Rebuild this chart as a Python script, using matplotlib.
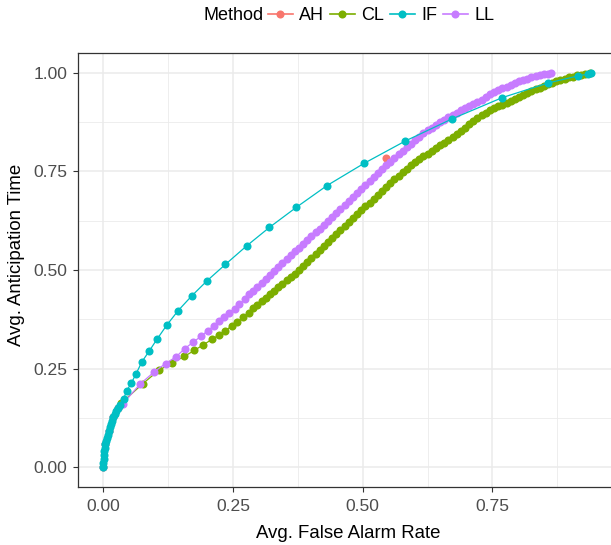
import matplotlib
matplotlib.use("Agg")
from matplotlib import pyplot as plt
from matplotlib.lines import Line2D
import numpy as np

plt.rcParams["font.family"] = ["Liberation Sans", "DejaVu Sans"]

# ---- data ----
methods = ["AH", "CL", "IF", "LL"]
colors = {"AH": "#F8766D", "CL": "#7CAE00", "IF": "#00BFC4", "LL": "#C77CFF"}

ah_x = [0.545]
ah_y = [0.785]

if_x = [0.000, 0.000, 0.001, 0.001, 0.002, 0.003, 0.004, 0.005, 0.006, 0.008,
        0.010, 0.012, 0.014, 0.016, 0.019, 0.022, 0.025, 0.028, 0.032, 0.039,
        0.045, 0.054, 0.063, 0.074, 0.088, 0.103, 0.122, 0.144, 0.170, 0.200,
        0.235, 0.276, 0.320, 0.372, 0.431, 0.502, 0.582, 0.672, 0.769, 0.857,
        0.915, 0.935, 0.939]
if_y = [0.000, 0.010, 0.020, 0.030, 0.040, 0.050, 0.058, 0.066, 0.074, 0.083,
        0.092, 0.101, 0.110, 0.118, 0.127, 0.136, 0.143, 0.149, 0.157, 0.174,
        0.194, 0.214, 0.237, 0.267, 0.294, 0.324, 0.360, 0.397, 0.434, 0.473,
        0.514, 0.561, 0.608, 0.659, 0.714, 0.770, 0.827, 0.883, 0.937, 0.974,
        0.992, 0.997, 1.000]

cl_x = [0.000, 0.004, 0.010, 0.019, 0.028, 0.034, 0.076, 0.107, 0.133, 0.156,
        0.175, 0.192, 0.209, 0.222, 0.235, 0.247, 0.258, 0.270, 0.280, 0.289,
        0.297, 0.305, 0.313, 0.321, 0.329, 0.337, 0.345, 0.353, 0.361, 0.369,
        0.377, 0.385, 0.393, 0.401, 0.409, 0.417, 0.425, 0.433, 0.441, 0.449,
        0.457, 0.465, 0.473, 0.481, 0.489, 0.497, 0.505, 0.513, 0.521, 0.529,
        0.537, 0.545, 0.553, 0.561, 0.569, 0.577, 0.585, 0.593, 0.601, 0.609,
        0.617, 0.625, 0.633, 0.641, 0.649, 0.657, 0.665, 0.673, 0.681, 0.689,
        0.697, 0.705, 0.713, 0.721, 0.729, 0.737, 0.745, 0.753, 0.761, 0.769,
        0.777, 0.785, 0.793, 0.801, 0.809, 0.817, 0.825, 0.833, 0.841, 0.849,
        0.857, 0.865, 0.873, 0.881, 0.889, 0.897, 0.905, 0.913, 0.921, 0.929,
        0.937]
cl_y = [0.000, 0.058, 0.092, 0.127, 0.149, 0.162, 0.212, 0.246, 0.265, 0.281,
        0.296, 0.310, 0.324, 0.335, 0.346, 0.358, 0.368, 0.381, 0.392, 0.403,
        0.412, 0.421, 0.430, 0.439, 0.447, 0.456, 0.465, 0.474, 0.483, 0.491,
        0.500, 0.510, 0.520, 0.530, 0.540, 0.550, 0.560, 0.571, 0.581, 0.591,
        0.601, 0.611, 0.621, 0.631, 0.641, 0.651, 0.661, 0.671, 0.681, 0.691,
        0.701, 0.710, 0.720, 0.730, 0.739, 0.748, 0.757, 0.765, 0.773, 0.781,
        0.788, 0.795, 0.802, 0.809, 0.816, 0.823, 0.830, 0.838, 0.845, 0.853,
        0.861, 0.869, 0.877, 0.885, 0.893, 0.899, 0.905, 0.910, 0.915, 0.919,
        0.924, 0.929, 0.934, 0.939, 0.944, 0.949, 0.954, 0.958, 0.962, 0.967,
        0.971, 0.975, 0.978, 0.982, 0.985, 0.988, 0.990, 0.993, 0.995, 0.997,
        0.999]

ll_x = [0.000, 0.004, 0.010, 0.019, 0.028, 0.037, 0.070, 0.098, 0.120, 0.140,
        0.157, 0.173, 0.188, 0.201, 0.213, 0.223, 0.233, 0.243, 0.253, 0.262,
        0.273,
        0.281, 0.289, 0.297, 0.305, 0.313, 0.321, 0.329, 0.337, 0.345, 0.353,
        0.361, 0.369, 0.377, 0.385, 0.393, 0.401, 0.409, 0.417, 0.425, 0.433,
        0.441, 0.449, 0.457, 0.465, 0.473, 0.481, 0.489, 0.497, 0.505, 0.513,
        0.521, 0.529, 0.537, 0.545, 0.553, 0.561, 0.569, 0.577, 0.585, 0.593,
        0.601, 0.609, 0.617, 0.625, 0.633, 0.641, 0.649, 0.657, 0.665, 0.673,
        0.681, 0.689, 0.697, 0.705, 0.713, 0.721, 0.729, 0.737, 0.745, 0.753,
        0.761, 0.769, 0.777, 0.785, 0.793, 0.801, 0.809, 0.817, 0.825, 0.833,
        0.841, 0.849, 0.857, 0.862]
ll_y = [0.000, 0.058, 0.092, 0.127, 0.149, 0.160, 0.210, 0.242, 0.263, 0.280,
        0.301, 0.317, 0.332, 0.346, 0.359, 0.370, 0.381, 0.392, 0.402, 0.413,
        0.426,
        0.438, 0.448, 0.458, 0.468, 0.478, 0.488, 0.498, 0.508, 0.518, 0.528,
        0.538, 0.548, 0.557, 0.567, 0.576, 0.586, 0.596, 0.605, 0.615, 0.624,
        0.634, 0.644, 0.654, 0.664, 0.674, 0.684, 0.695, 0.706, 0.716, 0.726,
        0.736, 0.746, 0.756, 0.765, 0.775, 0.784, 0.793, 0.802, 0.811, 0.820,
        0.829, 0.837, 0.846, 0.854, 0.861, 0.868, 0.875, 0.881, 0.887, 0.893,
        0.899, 0.905, 0.910, 0.916, 0.921, 0.927, 0.932, 0.938, 0.945, 0.951,
        0.956, 0.961, 0.965, 0.970, 0.974, 0.978, 0.982, 0.985, 0.988, 0.991,
        0.994, 0.996, 0.998, 1.000]

series = {
    "AH": (ah_x, ah_y),
    "CL": (cl_x, cl_y),
    "LL": (ll_x, ll_y),
    "IF": (if_x, if_y),
}

x_ticks = [0.00, 0.25, 0.50, 0.75]
y_ticks = [0.00, 0.25, 0.50, 0.75, 1.00]

# ---- figure ----
# panel runs a bit past the right edge of the image (cropped like the original)
W, H = 611, 545
left_px, right_px, top_px, bot_px = 78, 617, 53, 487
fig = plt.figure(figsize=(W / 100, H / 100), dpi=100)
ax = fig.add_axes([left_px / W, 1 - bot_px / H,
                   (right_px - left_px) / W, (bot_px - top_px) / H])

for name, (xs, ys) in series.items():
    ax.plot(xs, ys, color=colors[name], lw=0.9, marker="o", markersize=5.8,
            markeredgewidth=0, zorder=3)

ax.set_xlim(-0.049, 0.990)
ax.set_ylim(-0.05, 1.05)
ax.set_xticks(x_ticks)
ax.set_xticklabels([f"{v:.2f}" for v in x_ticks])
ax.set_yticks(y_ticks)
ax.set_yticklabels([f"{v:.2f}" for v in y_ticks])
ax.set_xticks(np.arange(0.125, 0.99, 0.25), minor=True)
ax.set_yticks(np.arange(0.125, 1.05, 0.25), minor=True)

ax.grid(True, which="major", color="#EBEBEB", lw=1.1, zorder=0)
ax.grid(True, which="minor", color="#EBEBEB", lw=0.6, zorder=0)
ax.set_axisbelow(True)
for s in ax.spines.values():
    s.set_color("#333333")
    s.set_linewidth(0.9)
ax.tick_params(which="major", length=3.5, width=0.8, color="#333333",
               labelsize=12.6, labelcolor="#4D4D4D")
ax.tick_params(axis="x", which="major", pad=5)
ax.tick_params(axis="y", which="major", pad=4)
ax.tick_params(which="minor", length=0)

ax.set_xlabel("Avg. False Alarm Rate", fontsize=13.4, va="center")
ax.set_ylabel("Avg. Anticipation Time", fontsize=13.4, va="center")
pw, ph = right_px - left_px, bot_px - top_px
ax.xaxis.set_label_coords((348 - left_px) / pw, -(533 - bot_px) / ph)
ax.yaxis.set_label_coords(-(left_px - 17) / pw, (bot_px - 255) / ph)

# legend across the top
handles = [Line2D([0], [0], color=colors[m], lw=1.2, marker="o", markersize=5.8,
                  markeredgewidth=0) for m in methods]
fig.legend(handles, methods, loc="center", bbox_to_anchor=(381 / W, 1 - 16 / H),
           ncol=4, frameon=False, fontsize=13, handlelength=1.4,
           handletextpad=0.35, columnspacing=0.3, borderaxespad=0)
fig.text(264 / W, 1 - 16 / H, "Method", fontsize=13, ha="right", va="center")

fig.savefig("out.png", dpi=100)
